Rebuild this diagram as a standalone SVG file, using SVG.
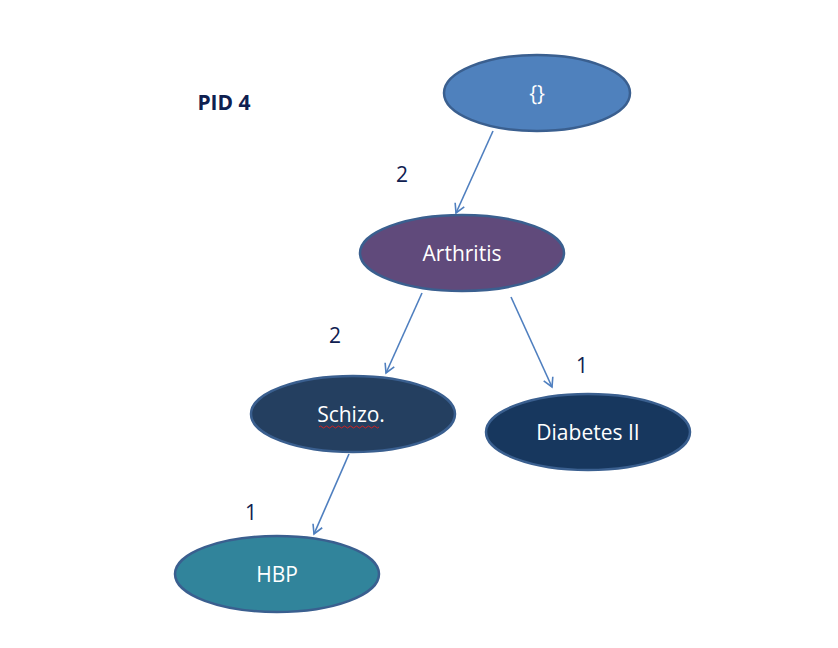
<svg xmlns="http://www.w3.org/2000/svg" width="838" height="648" viewBox="0 0 838 648">
<style>
.n{stroke:#3A5F8F;stroke-width:2.5}
.t{font-family:"Open Sans","Liberation Sans",sans-serif;font-size:21px;fill:#fff;text-anchor:middle}
.l{font-family:"Open Sans","Liberation Sans",sans-serif;font-size:21px;fill:#0F2050;text-anchor:middle}
.e{stroke:#4F7FBF;stroke-width:1.6;fill:none;marker-end:url(#a)}
</style>
<defs>
<marker id="a" markerWidth="14" markerHeight="14" refX="10" refY="6" orient="auto" markerUnits="userSpaceOnUse">
<path d="M1,1 L10,6 L1,11" fill="none" stroke="#4F7FBF" stroke-width="1.6"/>
</marker>
</defs>
<rect width="838" height="648" fill="#fff"/>
<text x="224" y="110" class="l" style="font-weight:bold">PID 4</text>
<g id="edges">
<line class="e" x1="493" y1="131" x2="456" y2="213"/>
<line class="e" x1="422" y1="293" x2="386" y2="373"/>
<line class="e" x1="511" y1="297" x2="552" y2="387"/>
<line class="e" x1="349" y1="454" x2="314" y2="534"/>
<text x="402" y="182" class="l">2</text>
<text x="335" y="343" class="l">2</text>
<text x="582" y="373" class="l">1</text>
<text x="251" y="520" class="l">1</text>
</g>
<g id="root">
<ellipse class="n" cx="537" cy="93" rx="93" ry="38" fill="#4F81BD"/>
<text x="537" y="101" class="t">{}</text>
</g>
<g id="arthritis">
<ellipse class="n" cx="462" cy="253" rx="102" ry="38" fill="#604A7B"/>
<text x="462" y="261" class="t">Arthritis</text>
</g>
<g id="schizo">
<ellipse class="n" cx="353" cy="414" rx="102" ry="38" fill="#243F60"/>
<text x="351" y="422" class="t">Schizo.</text>
<path d="M319,427 q1.5,-2 3,0 t3,0 t3,0 t3,0 t3,0 t3,0 t3,0 t3,0 t3,0 t3,0 t3,0 t3,0 t3,0 t3,0 t3,0 t3,0 t3,0 t3,0 t3,0 t3,0" fill="none" stroke="#D02020" stroke-width="1"/>
</g>
<g id="diabetes">
<ellipse class="n" cx="588" cy="432" rx="102" ry="38" fill="#17375E"/>
<text x="588" y="440" class="t">Diabetes II</text>
</g>
<g id="hbp">
<ellipse class="n" cx="277" cy="574" rx="102" ry="38" fill="#31849B"/>
<text x="277" y="582" class="t">HBP</text>
</g>
</svg>
